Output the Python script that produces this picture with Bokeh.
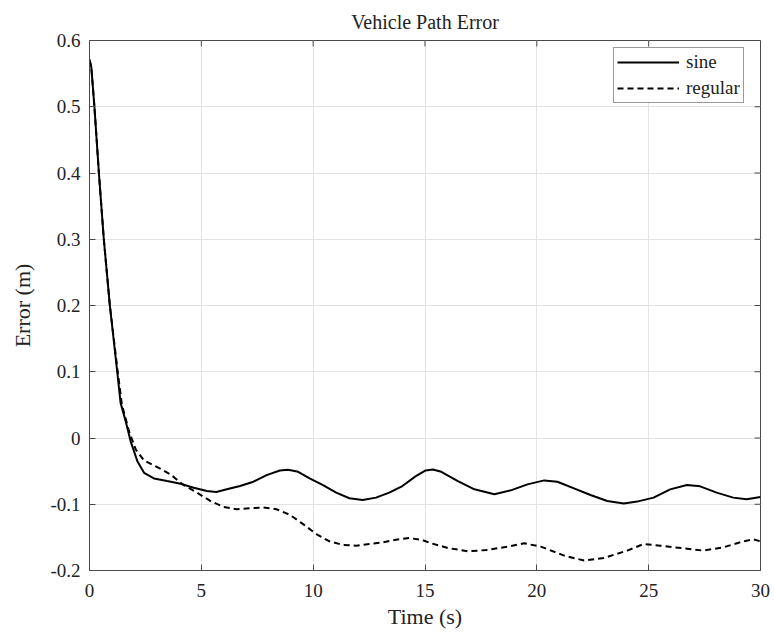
from bokeh.plotting import figure
from bokeh.models import Legend, LegendItem, FixedTicker
from bokeh.embed import file_html
from bokeh.resources import INLINE

# Path error traces (time in seconds, error in metres)
sine_t = [0.0, 0.08, 0.22, 0.42, 0.64, 0.91, 1.24, 1.39, 1.62, 1.84, 2.14, 2.44, 2.88,
          3.47, 4.07, 4.66, 5.25, 5.67, 6.14, 6.73, 7.33, 7.92, 8.51, 8.88, 9.33, 9.84,
          10.44, 11.03, 11.62, 12.21, 12.81, 13.4, 13.99, 14.59, 15.03, 15.35, 15.73,
          16.47, 17.21, 18.1, 18.84, 19.58, 20.33, 20.92, 21.66, 22.4, 23.15, 23.89,
          24.48, 25.22, 25.96, 26.71, 27.3, 28.04, 28.78, 29.38, 30.0]
sine_err = [0.571, 0.56, 0.5, 0.4, 0.3, 0.2, 0.1, 0.053, 0.025, -0.005, -0.035, -0.0525,
            -0.061, -0.065, -0.069, -0.075, -0.08, -0.0815, -0.0775, -0.0725, -0.066,
            -0.056, -0.049, -0.048, -0.051, -0.061, -0.071, -0.0825, -0.091, -0.0935,
            -0.09, -0.0825, -0.0725, -0.0575, -0.049, -0.0475, -0.051, -0.065, -0.0775,
            -0.085, -0.079, -0.07, -0.064, -0.066, -0.076, -0.086, -0.095, -0.099,
            -0.096, -0.09, -0.0775, -0.071, -0.073, -0.0825, -0.09, -0.0925, -0.089]

regular_t = [0.0, 0.08, 0.22, 0.42, 0.64, 0.91, 1.26, 1.45, 1.77, 2.07, 2.44, 3.03, 3.62,
             4.21, 4.81, 5.4, 5.99, 6.59, 7.18, 7.77, 8.36, 8.96, 9.55, 10.14, 10.73,
             11.33, 11.92, 12.51, 13.1, 13.7, 14.29, 14.88, 15.28, 16.02, 16.91, 17.8,
             18.69, 19.44, 20.18, 21.22, 22.11, 23.0, 24.04, 24.78, 25.52, 26.56, 27.45,
             28.34, 29.23, 29.67, 30.0]
regular_err = [0.571, 0.56, 0.5, 0.4, 0.3, 0.2, 0.1, 0.05, 0.01, -0.0175, -0.034, -0.044,
               -0.055, -0.071, -0.0825, -0.095, -0.104, -0.1075, -0.106, -0.105, -0.1075,
               -0.116, -0.13, -0.145, -0.156, -0.1615, -0.1625, -0.16, -0.1575, -0.1535,
               -0.151, -0.154, -0.159, -0.166, -0.171, -0.169, -0.164, -0.159, -0.164,
               -0.1775, -0.185, -0.181, -0.17, -0.16, -0.1625, -0.1665, -0.17, -0.165,
               -0.156, -0.153, -0.156]

x_ticks = [0, 5, 10, 15, 20, 25, 30]
y_ticks = [-0.2, -0.1, 0, 0.1, 0.2, 0.3, 0.4, 0.5, 0.6]
x_lo, x_hi = 0, 30
y_lo, y_hi = -0.2, 0.6

FONT = "Liberation Serif"
AXIS_COLOR = "#4a4a4a"
TEXT_COLOR = "#222222"

p = figure(width=774, height=633, output_backend="svg", toolbar_location=None,
           x_range=(x_lo, x_hi), y_range=(y_lo, y_hi), title="Vehicle Path Error",
           min_border_left=89, min_border_right=14, min_border_top=40,
           min_border_bottom=63)

p.title.align = "center"
p.title.text_font = FONT
p.title.text_font_size = "20px"
p.title.text_font_style = "normal"
p.title.text_color = TEXT_COLOR
p.title.offset = 0
p.title.standoff = 15

p.outline_line_color = AXIS_COLOR
p.outline_line_width = 1
p.grid.grid_line_color = "#e3e3e3"
p.grid.grid_line_width = 1

p.xaxis.ticker = FixedTicker(ticks=x_ticks)
p.yaxis.ticker = FixedTicker(ticks=y_ticks)
p.yaxis.major_label_overrides = {0: "0", -0.2: "-0.2", -0.1: "-0.1"}
p.xgrid.ticker = FixedTicker(ticks=x_ticks)
p.ygrid.ticker = FixedTicker(ticks=y_ticks)

TICK_LEN = 6
for ax in (p.xaxis[0], p.yaxis[0]):
    ax.major_tick_in = TICK_LEN
    ax.major_tick_out = 0
    ax.minor_tick_in = 0
    ax.minor_tick_out = 0
    ax.axis_line_color = AXIS_COLOR
    ax.major_tick_line_color = AXIS_COLOR
    ax.major_label_text_font = FONT
    ax.major_label_text_font_size = "19px"
    ax.major_label_text_color = TEXT_COLOR
    ax.axis_label_text_font = FONT
    ax.axis_label_text_font_size = "22px"
    ax.axis_label_text_font_style = "normal"
    ax.axis_label_text_color = TEXT_COLOR

p.xaxis.axis_label = "Time (s)"
p.yaxis.axis_label = "Error (m)"
p.xaxis.major_label_standoff = 13
p.xaxis.axis_label_standoff = 4
p.yaxis.major_label_standoff = 9
p.yaxis.axis_label_standoff = 12

# Mirrored inward ticks along the top and right edges of the box
dy = (y_hi - y_lo) / 530 * TICK_LEN
dx = (x_hi - x_lo) / 671 * TICK_LEN
p.segment(x0=x_ticks, y0=[y_hi] * len(x_ticks), x1=x_ticks,
          y1=[y_hi - dy] * len(x_ticks), line_color=AXIS_COLOR, line_width=1)
p.segment(x0=[x_hi] * len(y_ticks), y0=y_ticks, x1=[x_hi - dx] * len(y_ticks),
          y1=y_ticks, line_color=AXIS_COLOR, line_width=1)

r_sine = p.line(sine_t, sine_err, line_color="black", line_width=2)
r_reg = p.line(regular_t, regular_err, line_color="black", line_width=2,
               line_dash="6 4")

legend = Legend(items=[LegendItem(label="sine", renderers=[r_sine]),
                       LegendItem(label="regular", renderers=[r_reg])],
                location=(524, 467), border_line_color="#333333",
                border_line_width=1, background_fill_alpha=1,
                label_text_font=FONT, label_text_font_size="19px",
                label_text_color=TEXT_COLOR, glyph_width=62, glyph_height=18,
                label_height=18, label_standoff=7, padding=3, spacing=4,
                margin=0)
p.add_layout(legend, "center")

open("out.html", "w").write(file_html(p, INLINE))
